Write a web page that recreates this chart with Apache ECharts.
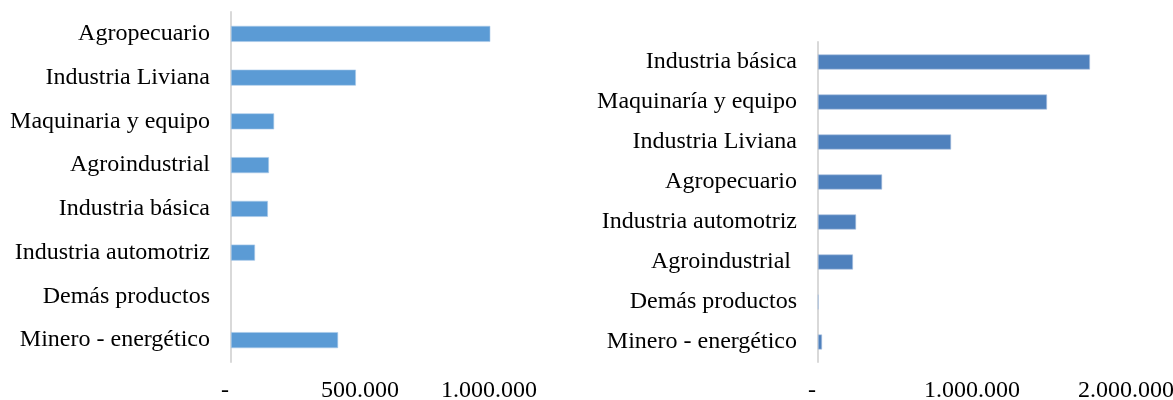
<!DOCTYPE html>
<html>
<head>
<meta charset="utf-8">
<script src="https://cdn.jsdelivr.net/npm/echarts@6/dist/echarts.min.js"></script>
<style>
  html, body { margin: 0; padding: 0; background: #fff; }
  #chart { width: 1173px; height: 400px; }
</style>
</head>
<body>
<div id="chart"></div>
<script>
const leftCategories = ['Agropecuario', 'Industria Liviana', 'Maquinaria y equipo', 'Agroindustrial',
    'Industria básica', 'Industria automotriz', 'Demás productos', 'Minero - energético'];
const leftValues = [1005000, 484000, 167000, 147000, 143000, 93000, 0, 415000];

const rightCategories = ['Industria básica', 'Maquinaría y equipo', 'Industria Liviana', 'Agropecuario',
    'Industria automotriz', 'Agroindustrial ', 'Demás productos', 'Minero - energético'];
const rightValues = [1766000, 1487000, 864000, 416000, 247000, 227000, 3000, 26000];

const FONT = '"Liberation Serif", "Times New Roman", serif';

// 1234567 -> "1.234.567", 0 -> "-"
const fmt = (v) => {
    if (v === 0) return '-  ';
    return String(Math.round(v)).replace(/\B(?=(\d{3})+(?!\d))/g, '.');
};

// zero values get no bar at all (no border sliver)
const barData = (values) => values.map(v => v === 0 ? { value: v, itemStyle: { borderWidth: 0, opacity: 0 } } : v);

const catAxis = (idx, data) => ({
    type: 'category',
    gridIndex: idx,
    data: data,
    inverse: true,
    axisLine: { show: true, lineStyle: { color: '#d9d9d9', width: 2 } },
    axisTick: { show: false },
    axisLabel: { color: '#000', fontFamily: FONT, fontSize: 24, margin: 21 }
});

const valAxis = (idx, max, interval) => ({
    type: 'value',
    gridIndex: idx,
    min: 0,
    max: max,
    interval: interval,
    axisLine: { show: false },
    axisTick: { show: false },
    splitLine: { show: false },
    axisLabel: {
        color: '#000', fontFamily: FONT, fontSize: 24, margin: 17,
        showMaxLabel: idx === 1,
        formatter: fmt
    }
});

const chart = echarts.init(document.getElementById('chart'));
chart.setOption({
    animation: false,
    grid: [
        { left: 231, top: 12, height: 350, width: 387, containLabel: false, outerBoundsMode: 'none' },
        { left: 818, top: 42, height: 320, width: 308, containLabel: false, outerBoundsMode: 'none' }
    ],
    xAxis: [valAxis(0, 1500000, 500000), valAxis(1, 2000000, 1000000)],
    yAxis: [catAxis(0, leftCategories), catAxis(1, rightCategories)],
    series: [
        {
            type: 'bar', xAxisIndex: 0, yAxisIndex: 0,
            data: barData(leftValues), barWidth: 16,
            itemStyle: { color: '#5b9bd5', borderColor: '#a9c9ea', borderWidth: 0.6 }
        },
        {
            type: 'bar', xAxisIndex: 1, yAxisIndex: 1,
            data: barData(rightValues), barWidth: 15,
            itemStyle: { color: '#4f81bd', borderColor: '#a7bfdf', borderWidth: 0.6 }
        }
    ]
});
</script>
</body>
</html>
